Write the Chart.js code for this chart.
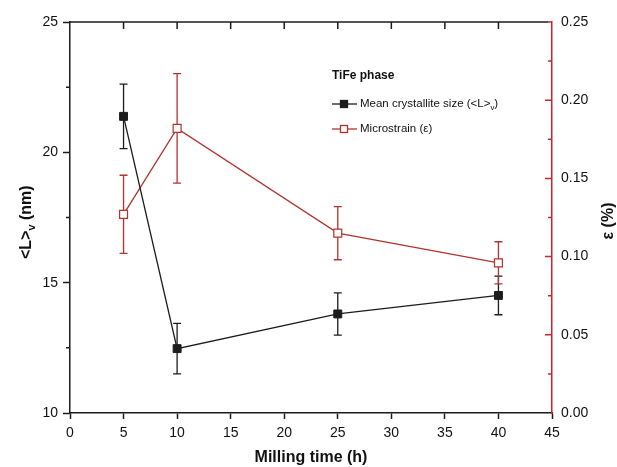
<!DOCTYPE html>
<html>
<head>
<meta charset="utf-8">
<script src="https://cdn.jsdelivr.net/npm/chart.js@4.4.1/dist/chart.umd.min.js"></script>
<style>
  html, body { margin: 0; padding: 0; background: #fff; }
</style>
</head>
<body>
<canvas id="chart" width="617" height="467"></canvas>
<script>
// TiFe phase: milling time vs crystallite size and microstrain
const hours = [5, 10, 25, 40]
const crystalliteSize = [21.38, 12.47, 13.80, 14.51]
const crystalliteErr = [1.24, 0.97, 0.81, 0.74]
const microstrain = [0.127, 0.182, 0.115, 0.096]
const microstrainErr = [0.025, 0.035, 0.017, 0.0135]

const FONT = "'Liberation Sans', Arial, sans-serif"
const BLACK = '#1c1c1c'
const RED = '#b3332f'
const AXIS_RED = '#c8262b'

function drawSub(ctx, parts, x, y, size) {
    // parts: [[text, isSub], ...] drawn left to right from x
    parts.forEach(([text, sub]) => {
        const s = sub ? size * 0.68 : size
        ctx.font = ctx.font.replace(/\d+(\.\d+)?px/, s + 'px')
        ctx.fillText(text, x, sub ? y + size * 0.3 : y)
        x += ctx.measureText(text).width
    })
    return x
}

const decorations = {
    id: 'decorations',
    beforeDatasetsDraw(chart) {
        const ctx = chart.ctx
        chart.data.datasets.forEach((ds, i) => {
            const meta = chart.getDatasetMeta(i)
            const scale = chart.scales[ds.yAxisID]
            ctx.save()
            ctx.strokeStyle = ds.borderColor
            ctx.lineWidth = 1.3
            meta.data.forEach((pt, j) => {
                const v = ds.data[j].y
                const top = scale.getPixelForValue(v + ds.errors[j])
                const bot = scale.getPixelForValue(v - ds.errors[j])
                ctx.beginPath()
                ctx.moveTo(pt.x, top); ctx.lineTo(pt.x, bot)
                ctx.moveTo(pt.x - 4, top); ctx.lineTo(pt.x + 4, top)
                ctx.moveTo(pt.x - 4, bot); ctx.lineTo(pt.x + 4, bot)
                ctx.stroke()
            })
            ctx.restore()
        })
    },
    afterDraw(chart) {
        const ctx = chart.ctx
        const {left, right, top, bottom} = chart.chartArea
        const x = chart.scales.x, y = chart.scales.y, y2 = chart.scales.y2
        ctx.save()

        // top frame with inward ticks
        ctx.strokeStyle = BLACK
        ctx.lineWidth = 1.5
        ctx.beginPath()
        ctx.moveTo(left, top); ctx.lineTo(right - 4, top)
        for (let v = 5; v < 45; v += 5) {
            const px = x.getPixelForValue(v)
            ctx.moveTo(px, top); ctx.lineTo(px, top + 7)
        }
        // minor ticks on the left axis
        for (let v = 12.5; v < 25; v += 5) {
            const py = y.getPixelForValue(v)
            ctx.moveTo(left - 4, py); ctx.lineTo(left, py)
        }
        ctx.stroke()

        // right axis ticks point inward
        ctx.strokeStyle = AXIS_RED
        ctx.beginPath()
        ctx.moveTo(right - 4, top); ctx.lineTo(right, top)
        for (let i = 1; i < 10; i++) {
            const py = y2.getPixelForValue(i * 0.025)
            const len = i % 2 === 0 ? 7 : 4
            ctx.moveTo(right - len, py); ctx.lineTo(right, py)
        }
        ctx.stroke()

        // axis titles
        ctx.fillStyle = '#111'
        ctx.textBaseline = 'middle'
        ctx.font = `bold 16px ${FONT}`
        ctx.textAlign = 'center'
        ctx.fillText('Milling time (h)', 311, 458)

        ctx.textAlign = 'left'
        ctx.save()
        ctx.translate(27, 219)
        ctx.rotate(-Math.PI / 2)
        drawSub(ctx, [['<L>', false], ['v', true], [' (nm)', false]], -40, 0, 16)
        ctx.restore()

        ctx.save()
        ctx.translate(609, 221)
        ctx.rotate(-Math.PI / 2)
        ctx.font = `bold 16px ${FONT}`
        ctx.textAlign = 'center'
        ctx.fillText('ε (%)', 0, 0)
        ctx.restore()

        // legend
        ctx.font = `bold 12px ${FONT}`
        ctx.fillText('TiFe phase', 332, 76)
        const rows = [
            {y: 104, color: BLACK, fill: BLACK, parts: [['Mean crystallite size (<L>', false], ['v', true], [')', false]]},
            {y: 129, color: RED, fill: '#fff', parts: [['Microstrain (ε)', false]]}
        ]
        rows.forEach(r => {
            ctx.strokeStyle = r.color
            ctx.lineWidth = 1.3
            ctx.beginPath()
            ctx.moveTo(332, r.y); ctx.lineTo(357, r.y)
            ctx.stroke()
            ctx.fillStyle = r.fill
            ctx.fillRect(340.5, r.y - 3.5, 7, 7)
            ctx.strokeRect(340.5, r.y - 3.5, 7, 7)
            ctx.fillStyle = '#111'
            ctx.font = `11.5px ${FONT}`
            drawSub(ctx, r.parts, 360, r.y, 11.5)
        })
        ctx.restore()
    }
}

const tickFont = {family: FONT, size: 14}

new Chart('chart', {
    type: 'line',
    data: {
        datasets: [{
            label: 'Mean crystallite size',
            data: hours.map((h, i) => ({x: h, y: crystalliteSize[i]})),
            errors: crystalliteErr,
            yAxisID: 'y',
            borderColor: BLACK,
            backgroundColor: BLACK,
            borderWidth: 1.3,
            pointStyle: 'rect',
            pointRadius: 5.6,
            pointBorderWidth: 1,
            tension: 0
        }, {
            label: 'Microstrain',
            data: hours.map((h, i) => ({x: h, y: microstrain[i]})),
            errors: microstrainErr,
            yAxisID: 'y2',
            borderColor: RED,
            backgroundColor: '#fff',
            borderWidth: 1.3,
            pointStyle: 'rect',
            pointRadius: 5.6,
            pointBorderWidth: 1.2,
            tension: 0
        }]
    },
    options: {
        responsive: false,
        animation: false,
        layout: {padding: {top: 22}},
        plugins: {legend: {display: false}, tooltip: {enabled: false}},
        scales: {
            x: {
                type: 'linear', min: 0, max: 45,
                ticks: {stepSize: 5, font: tickFont, color: '#111', padding: 6, maxRotation: 0},
                grid: {drawOnChartArea: false, tickLength: 6, color: BLACK, tickWidth: 1.5},
                border: {color: BLACK, width: 1.5},
                afterFit: s => { s.height = 54 }
            },
            y: {
                position: 'left', min: 10, max: 25,
                ticks: {stepSize: 5, font: tickFont, color: '#111', padding: 5},
                grid: {drawOnChartArea: false, tickLength: 7, color: BLACK, tickWidth: 1.5},
                border: {color: BLACK, width: 1.5},
                afterFit: s => { s.width = 70 }
            },
            y2: {
                position: 'right', min: 0, max: 0.25,
                ticks: {stepSize: 0.05, font: tickFont, color: '#111', padding: 3,
                        callback: v => v.toFixed(2)},
                grid: {drawOnChartArea: false, tickLength: 6, tickColor: 'transparent'},
                border: {color: AXIS_RED, width: 1.5},
                afterFit: s => { s.width = 65 }
            }
        }
    },
    plugins: [decorations]
})
</script>
</body>
</html>
